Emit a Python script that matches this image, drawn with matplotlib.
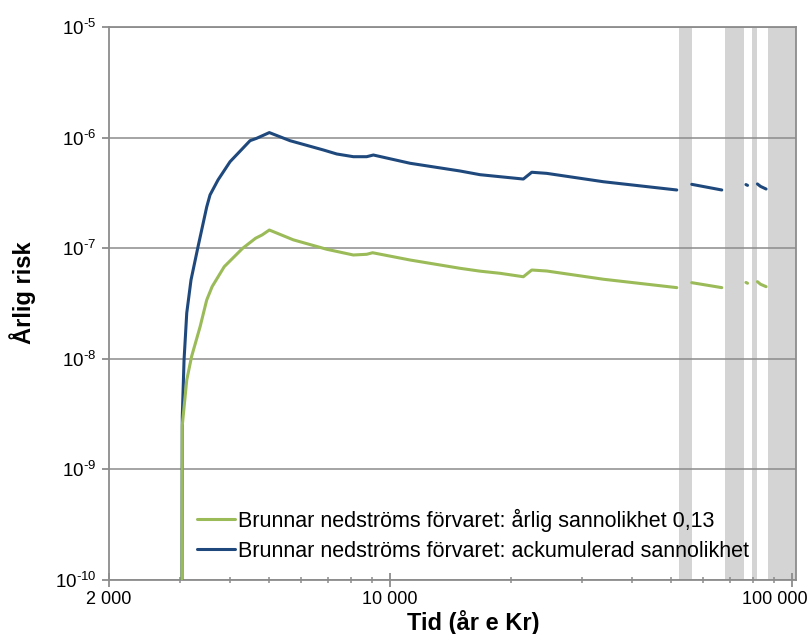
import numpy as np
import matplotlib
matplotlib.use('Agg')
import matplotlib.pyplot as plt
from matplotlib.ticker import FixedLocator, NullFormatter
from matplotlib.transforms import ScaledTranslation

rcParams = matplotlib.rcParams
rcParams['font.family'] = ['Liberation Sans', 'DejaVu Sans']
rcParams['font.size'] = 13
rcParams['mathtext.default'] = 'regular'

#%% Data
# years AD; NaN marks a break in the curve
year_acc = [3030, 3043, 3074, 3122, 3199, 3330, 3500, 3567, 3734, 4000, 4486, 4660,
            5010, 5639, 6826, 7372, 8106, 8750, 9090, 11218, 14933, 16749, 18780,
            21460, 22520, 24540, 33940, 51680, np.nan,
            56300, 66870, np.nan,
            76800, 77500, np.nan,
            82000, 83500, 86180]
risk_acc = [1e-12, 3.0e-9, 9.75e-9, 2.6e-8, 5.16e-8, 1.03e-7, 2.36e-7, 3.03e-7, 4.14e-7,
            6.05e-7, 9.38e-7, 9.86e-7,
            1.11e-6, 9.38e-7, 7.73e-7, 7.11e-7, 6.72e-7, 6.72e-7, 6.96e-7, 5.86e-7,
            4.99e-7, 4.62e-7, 4.43e-7,
            4.22e-7, 4.86e-7, 4.75e-7, 3.99e-7, 3.36e-7, np.nan,
            3.78e-7, 3.36e-7, np.nan,
            3.76e-7, 3.70e-7, np.nan,
            3.81e-7, 3.62e-7, 3.43e-7]

year_ann = [3030, 3043, 3122, 3210, 3370, 3500, 3610, 3870, 4300, 4630, 4810, 5010,
            5748, 6958, 8106, 8750, 9050, 11218, 14933, 16749, 18780,
            21460, 22520, 24540, 33940, 51680, np.nan,
            56300, 66870, np.nan,
            76800, 77500, np.nan,
            82000, 83500, 86180]
risk_ann = [1e-12, 2.5e-9, 6.43e-9, 1.05e-8, 1.95e-8, 3.40e-8, 4.49e-8, 6.81e-8, 9.98e-8,
            1.23e-7, 1.32e-7, 1.46e-7,
            1.19e-7, 9.78e-8, 8.68e-8, 8.81e-8, 9.1e-8, 7.82e-8, 6.58e-8, 6.2e-8, 5.93e-8,
            5.52e-8, 6.35e-8, 6.22e-8, 5.24e-8, 4.40e-8, np.nan,
            4.88e-8, 4.40e-8, np.nan,
            4.90e-8, 4.82e-8, np.nan,
            4.98e-8, 4.72e-8, 4.49e-8]

# shaded time intervals (years AD)
band_start = [52360, 68150, 79540, 87160]
band_end = [56400, 75970, 81850, 102300]

x_ticks = [2000, 10000, 100000]
x_ticklabels = ['2 000', '10 000', '100 000']
y_exponents = [-10, -9, -8, -7, -6, -5]

label_ann = 'Brunnar nedströms förvaret: årlig sannolikhet 0,13'
label_acc = 'Brunnar nedströms förvaret: ackumulerad sannolikhet'

#%% Figure
fig = plt.figure(figsize=(8.08, 6.34), dpi=100)
ax = fig.add_axes([109/808, 1 - 580/634, 687/808, 553/634])

gray = '#8c8c8c'
for a, b in zip(band_start, band_end):
    ax.axvspan(a, b, color='#d4d4d4', lw=0, zorder=0)

ax.set_xscale('log')
ax.set_yscale('log')
ax.set_xlim(2000, 102300)
ax.set_ylim(1e-10, 1e-5)

ax.yaxis.grid(True, which='major', color=gray, lw=1.1, zorder=1)
ax.set_axisbelow(False)

l_acc, = ax.plot(year_acc, risk_acc, color='#1F497D', lw=2.2, zorder=3,
                 solid_capstyle='round', label=label_acc)
l_ann, = ax.plot(year_ann, risk_ann, color='#9BBB59', lw=2.2, zorder=4,
                 solid_capstyle='round', label=label_ann)

for s in ax.spines.values():
    s.set_color(gray)
    s.set_linewidth(1.3)

ax.xaxis.set_major_locator(FixedLocator(x_ticks))
ax.set_xticklabels(x_ticklabels)
minors = [k * 1000 for k in range(3, 10)] + [k * 10000 for k in range(2, 10)]
ax.xaxis.set_minor_locator(FixedLocator(minors))
ax.xaxis.set_minor_formatter(NullFormatter())
ax.tick_params(axis='x', which='major', direction='inout', length=10, width=1.3,
               color=gray, labelsize=13, pad=3)
ax.tick_params(axis='x', which='minor', direction='inout', length=5, width=1.1, color=gray)
# last label is pulled inside the figure, as in the original
last = ax.get_xticklabels()[-1]
last.set_transform(last.get_transform() + ScaledTranslation(-0.17, 0, fig.dpi_scale_trans))

ax.yaxis.set_major_locator(FixedLocator([10.0**e for e in y_exponents]))
ax.set_yticklabels(['$10^{\u2010%d}$' % -e for e in y_exponents])
ax.yaxis.set_minor_locator(FixedLocator([]))
ax.tick_params(axis='y', which='major', direction='out', length=5, width=1.3,
               color=gray, labelsize=13.5, pad=4)

ax.set_xlabel('Tid (år e Kr)', fontsize=17, fontweight='bold')
ax.xaxis.set_label_coords(0.53, -0.055)
ax.set_ylabel('Årlig risk', fontsize=17, fontweight='bold')
ax.yaxis.set_label_coords(-0.106, 0.52)

ax.legend(handles=[l_ann, l_acc], loc='lower left', bbox_to_anchor=(0.128, 0.033),
          frameon=False, fontsize=15.5, handlelength=1.77, handletextpad=0.14,
          borderpad=0, borderaxespad=0, labelspacing=0.42)

fig.savefig('out.png', dpi=100)
